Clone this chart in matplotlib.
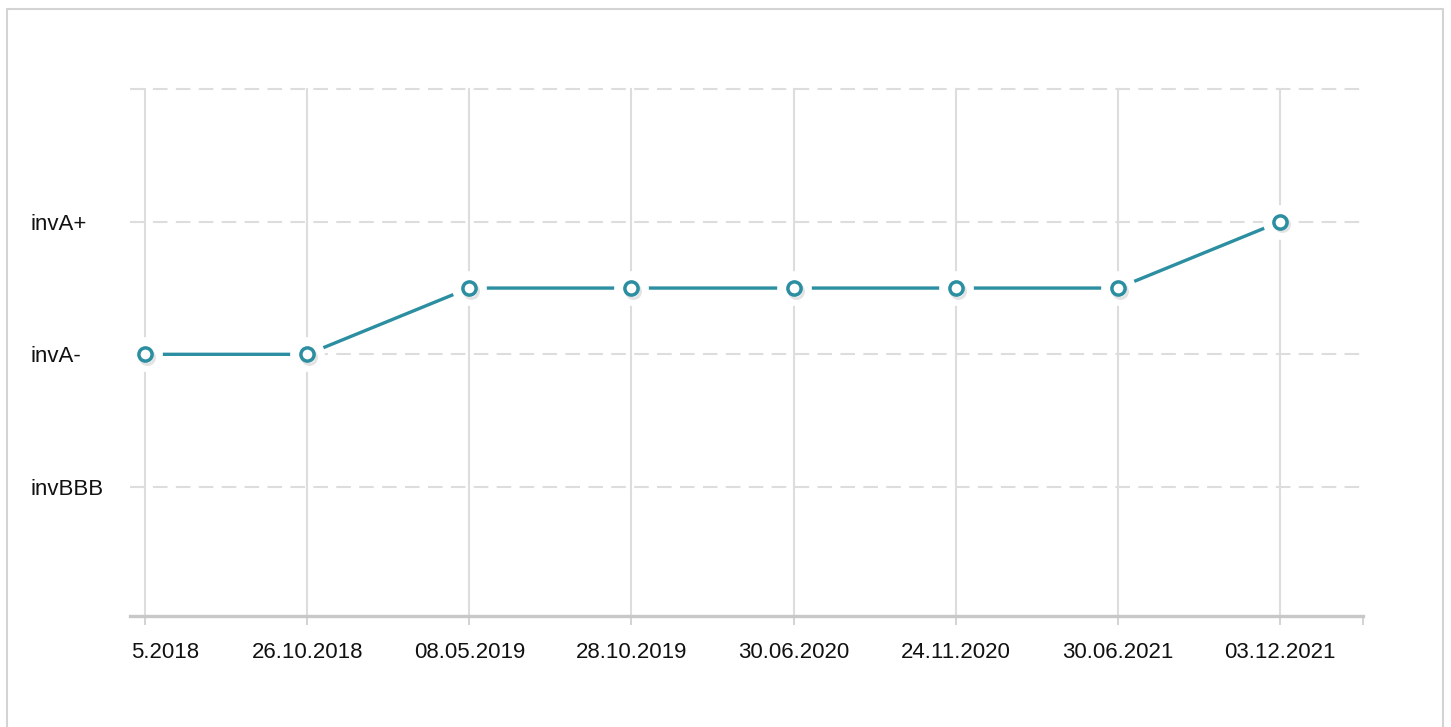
import matplotlib
matplotlib.use("Agg")
import matplotlib.pyplot as plt
from matplotlib.patches import Rectangle
from matplotlib.transforms import ScaledTranslation

# rating scale (bottom to top) and the series
scale = ["invBBB", "invBBB+", "invA-", "invA", "invA+", "invAA-", "invAA"]
dates = ["5.2018", "26.10.2018", "08.05.2019", "28.10.2019",
         "30.06.2020", "24.11.2020", "30.06.2021", "03.12.2021"]
ratings = ["invA-", "invA-", "invA", "invA", "invA", "invA", "invA", "invA+"]
ytick_ratings = ["invBBB", "invA-", "invA+", "invAA"]
ytick_labels = ["invBBB", "invA-", "invA+", ""]

plt.rcParams["font.family"] = ["Liberation Sans", "DejaVu Sans"]

W, H = 1451, 727
fig = plt.figure(figsize=(W / 100, H / 100), dpi=100)
ax = fig.add_axes([130 / W, 1 - 616 / H, (1363 - 130) / W, (616 - 86) / H])

x = list(range(len(dates)))
y = [scale.index(r) for r in ratings]
line_color = "#2b8ea1"
grid_color = "#dddddd"

ax.set_xlim(-0.0925, 7.512)
ax.set_ylim(-1.95, 6.05)

# gridlines
for xi in x:
    ax.axvline(xi, ymax=(6 - (-1.95)) / (6.05 - (-1.95)), color=grid_color, lw=1.5, zorder=1)
for r in ytick_ratings:
    ax.axhline(scale.index(r), color=grid_color, lw=1.5, ls=(0, (7, 4)), zorder=1)

ax.plot(x, y, color=line_color, lw=2.4, zorder=2)
ax.plot(x, y, ls="none", marker="o", ms=25, mfc="white", mec="none", zorder=3)
ax.plot([xi + 0.012 for xi in x], [yi - 0.04 for yi in y], ls="none", marker="o", ms=10,
        mfc="none", mec="#bbbbbb", mew=2.2, alpha=0.4, zorder=3.5)
ax.plot(x, y, ls="none", marker="o", ms=9.5, mfc="white", mec=line_color, mew=2.5, zorder=4)

for s in ["top", "right", "left"]:
    ax.spines[s].set_visible(False)
ax.spines["bottom"].set_color("#c8c8c8")
ax.spines["bottom"].set_linewidth(2.4)

ax.set_xticks(x)
ax.set_xticklabels(dates, fontsize=16, color="#111111")
ax.set_xticks([7.512], minor=True)
ax.tick_params(axis="x", which="both", length=6.5, width=1.2, color="#cccccc", pad=12.5)
first = ax.get_xticklabels()[0]
first.set_ha("left")
first.set_transform(first.get_transform() + ScaledTranslation(-0.14, 0, fig.dpi_scale_trans))

ax.set_yticks([scale.index(r) for r in ytick_ratings])
ax.set_yticklabels(ytick_labels, fontsize=16, color="#111111")
ax.tick_params(axis="y", length=0, pad=72)
for lab in ax.get_yticklabels():
    lab.set_ha("left")

# outer frame
fig.patches.append(Rectangle((7 / W, -0.1), (1443 - 7) / W, 1.1 - 9 / H,
                             transform=fig.transFigure, fill=False,
                             ec="#d3d3d3", lw=1.5))

fig.savefig("out.png", dpi=100)
